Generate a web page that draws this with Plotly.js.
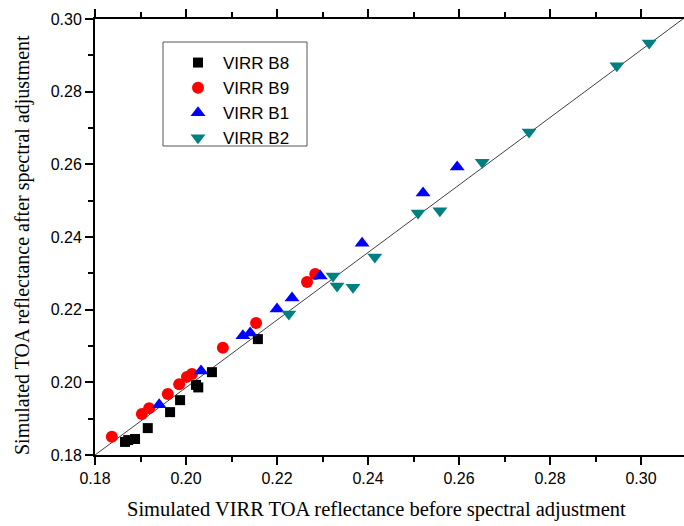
<!DOCTYPE html>
<html>
<head>
<meta charset="utf-8">
<script src="https://cdn.plot.ly/plotly-3.0.1.min.js"></script>
<style>html,body{margin:0;padding:0;background:#fff;}#chart{width:684px;height:526px;}</style>
</head>
<body>
<div id="chart"></div>
<script>
// VIRR B8
const b8X = [0.1866, 0.1873, 0.1888, 0.1916, 0.1965, 0.1987, 0.2022, 0.2027, 0.2057, 0.2158];
const b8Y = [0.1836, 0.1841, 0.1844, 0.1874, 0.1918, 0.1951, 0.1993, 0.1986, 0.2028, 0.2119];
// VIRR B9
const b9X = [0.1837, 0.1903, 0.1919, 0.1960, 0.1985, 0.2002, 0.2013, 0.2081, 0.2154, 0.2266, 0.2284];
const b9Y = [0.1850, 0.1913, 0.1929, 0.1968, 0.1995, 0.2015, 0.2023, 0.2095, 0.2163, 0.2276, 0.2298];
// VIRR B1
const b1X = [0.1941, 0.2033, 0.2125, 0.2141, 0.2200, 0.2233, 0.2295, 0.2387, 0.2521, 0.2596];
const b1Y = [0.1938, 0.2031, 0.2128, 0.2136, 0.2202, 0.2232, 0.2293, 0.2383, 0.2521, 0.2593];
// VIRR B2
const b2X = [0.2226, 0.2323, 0.2332, 0.2367, 0.2415, 0.2510, 0.2558, 0.2651, 0.2754, 0.2947, 0.3018];
const b2Y = [0.2188, 0.2293, 0.2265, 0.2262, 0.2345, 0.2466, 0.2472, 0.2606, 0.2689, 0.2871, 0.2934];
// fitted line end points
const fitX = [0.18, 0.3092];
const fitY = [0.18, 0.30];

const tickVals = [0.18, 0.20, 0.22, 0.24, 0.26, 0.28, 0.30];
const tickText = ["0.18", "0.20", "0.22", "0.24", "0.26", "0.28", "0.30"];
const xTitle = 'Simulated VIRR TOA reflectance before spectral adjustment';
const yTitle = 'Simulated TOA reflectance after spectral adjustment';

const traces = [
  {x: fitX, y: fitY, mode: 'lines', line: {color: '#404040', width: 1}, showlegend: false, hoverinfo: 'skip'},
  {x: b8X, y: b8Y, mode: 'markers', name: 'VIRR B8', marker: {symbol: 'square', color: '#000000', size: 10}},
  {x: b9X, y: b9Y, mode: 'markers', name: 'VIRR B9', marker: {symbol: 'circle', color: '#ff0000', size: 12}},
  {x: b1X, y: b1Y, mode: 'markers', name: 'VIRR B1', marker: {symbol: 'triangle-up', color: '#0000ff', size: 13}},
  {x: b2X, y: b2Y, mode: 'markers', name: 'VIRR B2', marker: {symbol: 'triangle-down', color: '#008080', size: 13}}
];

const axisCommon = {
  showgrid: false, zeroline: false,
  showline: true, linecolor: '#000', linewidth: 2,
  ticks: 'outside', ticklen: 8, tickwidth: 2, tickcolor: '#000',
  tickmode: 'array', tickvals: tickVals, ticktext: tickText,
  tickfont: {family: 'Liberation Sans, Arial, sans-serif', size: 16, color: '#000'},
  minor: {dtick: 0.01, tick0: 0.18, ticks: 'outside', ticklen: 5, tickwidth: 2, tickcolor: '#000', showgrid: false}
};

const titleFont = {family: 'Liberation Serif, Times New Roman, serif', size: 20.5, color: '#000'};

const layout = {
  width: 684, height: 526,
  margin: {l: 95, r: 0, t: 19, b: 71},
  paper_bgcolor: '#fff', plot_bgcolor: '#fff',
  xaxis: Object.assign({}, axisCommon, {range: [0.18, 0.30945], mirror: 'ticks'}),
  yaxis: Object.assign({}, axisCommon, {range: [0.18, 0.30], mirror: false}),
  annotations: [{
    text: xTitle, xref: 'paper', yref: 'paper', x: (376 - 95) / 589, y: -0.125,
    xanchor: 'center', yanchor: 'middle', showarrow: false, font: titleFont
  }, {
    text: yTitle, xref: 'paper', yref: 'paper', x: (22 - 95) / 589, y: (455 - 245) / 436,
    xanchor: 'center', yanchor: 'middle', textangle: -90, showarrow: false,
    font: Object.assign({}, titleFont, {size: 20})
  }],
  shapes: [{
    type: 'rect', xref: 'paper', yref: 'paper',
    x0: (163 - 95) / 589, x1: (307 - 95) / 589, y0: (455 - 146) / 436, y1: (455 - 42) / 436,
    line: {color: '#555', width: 1}, fillcolor: 'rgba(0,0,0,0)', layer: 'above'
  }],
  legend: {
    x: (173 - 95) / 589, y: (455 - 45) / 436, xanchor: 'left', yanchor: 'top',
    borderwidth: 0, bgcolor: 'rgba(0,0,0,0)',
    font: {family: 'Liberation Sans, Arial, sans-serif', size: 17, color: '#000'},
    itemwidth: 40, tracegroupgap: 0
  },
  showlegend: true
};

Plotly.newPlot('chart', traces, layout, {displayModeBar: false, staticPlot: true});
</script>
</body>
</html>
